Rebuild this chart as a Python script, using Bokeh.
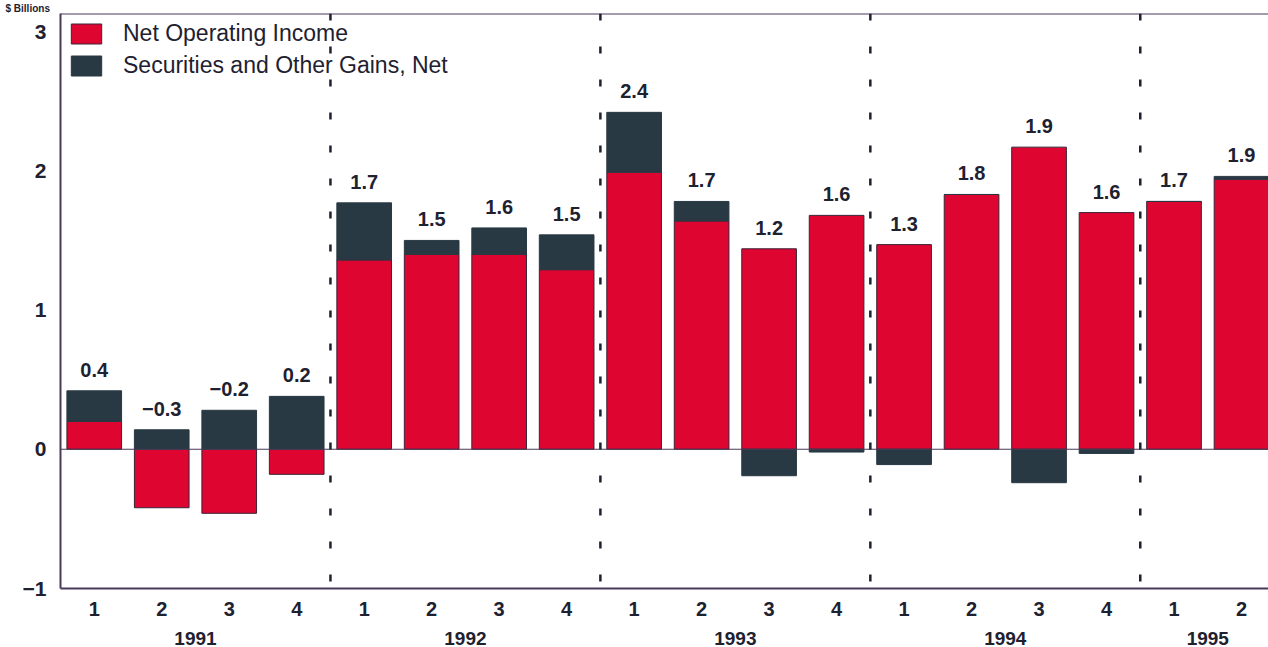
from bokeh.plotting import figure
from bokeh.models import LinearAxis, FixedTicker, Span, Title, ColumnDataSource, Legend
from bokeh.core.properties import value
from bokeh.embed import file_html
from bokeh.resources import INLINE

# ---- data ----
years = ["1991"] * 4 + ["1992"] * 4 + ["1993"] * 4 + ["1994"] * 4 + ["1995"] * 2
quarters = ["1", "2", "3", "4"] * 4 + ["1", "2"]
net_operating = [0.20, -0.42, -0.46, -0.18, 1.36, 1.40, 1.40, 1.29, 1.99, 1.64,
                 1.44, 1.68, 1.47, 1.83, 2.17, 1.70, 1.78, 1.94]
securities = [0.22, 0.14, 0.28, 0.38, 0.41, 0.10, 0.19, 0.25, 0.43, 0.14,
              -0.19, -0.02, -0.11, 0.00, -0.24, -0.03, 0.00, 0.02]
total_labels = ["0.4", "\u22120.3", "\u22120.2", "0.2", "1.7", "1.5", "1.6", "1.5", "2.4",
                "1.7", "1.2", "1.6", "1.3", "1.8", "1.9", "1.6", "1.7", "1.9"]
y_ticks = [-1, 0, 1, 2, 3]
y_tick_labels = {-1: "\u22121", 0: "0", 1: "1", 2: "2", 3: "3"}

RED = "#DE0530"
DARK = "#283943"
INK = "#1E2130"
FRAME = "#4a3a5a"
FONT = "Liberation Sans"

n = len(net_operating)
xs = list(range(1, n + 1))

sec_bottom, sec_top, label_y = [], [], []
for a, b in zip(net_operating, securities):
    if (a >= 0 and b >= 0) or (a < 0 and b < 0):
        lo, hi = a, a + b
    else:
        lo, hi = 0, b
    sec_bottom.append(lo)
    sec_top.append(hi)
    label_y.append(max(0, a, lo, hi))

src = ColumnDataSource(dict(x=xs, noi=net_operating, sb=sec_bottom, st=sec_top,
                            ly=label_y, lab=total_labels))

Y_TOP = 3.13
p = figure(width=1268, height=647, x_range=(0.5, 18.4), y_range=(-1.0, Y_TOP),
           output_backend="svg", toolbar_location=None,
           min_border_left=60, min_border_right=0, min_border_top=0, min_border_bottom=59)
p.grid.visible = False
p.outline_line_color = None
p.background_fill_color = "white"

p.add_layout(Title(text="$ Billions", text_font=FONT, text_font_size="10px",
                   text_font_style="bold", text_color=INK, standoff=0, offset=-55), "above")

r1 = p.vbar(x="x", top="noi", bottom=0, width=0.81, source=src,
            fill_color=RED, line_color="#3a2438", line_width=1)
r2 = p.vbar(x="x", top="st", bottom="sb", width=0.81, source=src,
            fill_color=DARK, line_color=DARK, line_width=1)

p.text(x="x", y="ly", text="lab", source=src, text_align="center",
       text_baseline="bottom", y_offset=-14, text_font=value(FONT),
       text_font_size="20px", text_font_style="bold", text_color=INK)

# zero line and top frame line
p.add_layout(Span(location=0, dimension="width", line_color=FRAME, line_width=1.2))
p.add_layout(Span(location=Y_TOP, dimension="width", line_color=FRAME, line_width=2))

# dashed dividers between years
for i in range(1, n):
    if years[i] != years[i - 1]:
        p.add_layout(Span(location=(xs[i] + xs[i - 1]) / 2, dimension="height",
                          line_color=INK, line_width=2.5, line_dash="7 26"))

def style_axis(ax, size="19px"):
    ax.major_tick_out = 0
    ax.major_tick_in = 0
    ax.minor_tick_out = 0
    ax.minor_tick_in = 0
    ax.major_label_text_font = FONT
    ax.major_label_text_font_size = size
    ax.major_label_text_font_style = "bold"
    ax.major_label_text_color = INK

# x axis: quarters
xa = p.xaxis[0]
xa.ticker = FixedTicker(ticks=xs)
xa.major_label_overrides = {x: q for x, q in zip(xs, quarters)}
style_axis(xa, "20px")
xa.axis_line_color = FRAME
xa.axis_line_width = 2
xa.major_label_standoff = 13

# year axis
year_names = []
for y in years:
    if y not in year_names:
        year_names.append(y)
year_pos = []
for y in year_names:
    ps = [x for x, yy in zip(xs, years) if yy == y]
    year_pos.append(sum(ps) / len(ps))
ya2 = LinearAxis(ticker=FixedTicker(ticks=year_pos),
                 major_label_overrides={p_: y for p_, y in zip(year_pos, year_names)})
style_axis(ya2, "19px")
ya2.axis_line_color = None
ya2.major_label_standoff = 13
p.add_layout(ya2, "below")

# y axis
ya = p.yaxis[0]
ya.ticker = FixedTicker(ticks=y_ticks)
ya.major_label_overrides = y_tick_labels
style_axis(ya, "21px")
ya.axis_line_color = FRAME
ya.axis_line_width = 2
ya.major_label_standoff = 14

legend = Legend(items=[("Net Operating Income", [r1]),
                       ("Securities and Other Gains, Net", [r2])],
                location="top_left")
legend.margin = 7
legend.padding = 0
legend.glyph_width = 38
legend.glyph_height = 25
legend.label_standoff = 18
legend.spacing = 5
legend.border_line_color = None
legend.background_fill_alpha = 0
legend.label_text_font = FONT
legend.label_text_font_size = "23px"
legend.label_text_color = INK
p.add_layout(legend)

open("out.html", "w").write(file_html(p, INLINE))
